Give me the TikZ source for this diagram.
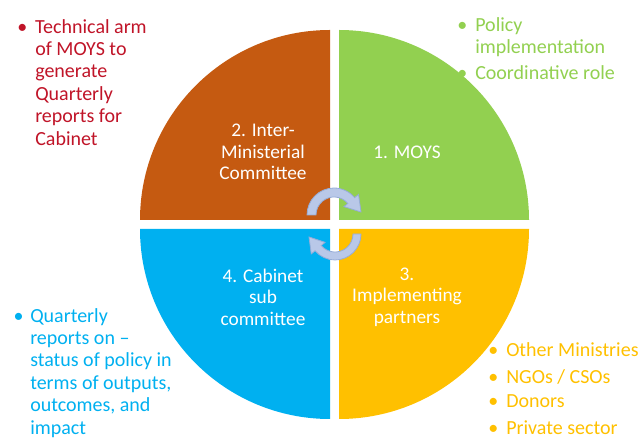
\documentclass[tikz,border=0pt]{standalone}
\usepackage{fontspec}
\setmainfont{Carlito}
\usepackage{tikz}
\usetikzlibrary{calc, positioning}

\definecolor{brownq}{RGB}{197,90,17}
\definecolor{greenq}{RGB}{146,208,80}
\definecolor{blueq}{RGB}{0,176,240}
\definecolor{yellowq}{RGB}{255,192,0}
\definecolor{redtext}{RGB}{192,20,40}
\definecolor{arrowfill}{RGB}{185,200,232}
\definecolor{arrowedge}{RGB}{150,172,215}

\begin{document}
\begin{tikzpicture}[x=0.75pt, y=0.75pt,
        quad/.style={text=white, align=center, inner sep=0pt, font=\fontsize{14.5}{16.2}\selectfont},
        note/.style={anchor=north west, align=left, inner sep=0pt, font=\fontsize{15}{16.8}\selectfont},
        cyc/.style={fill=arrowfill, draw=arrowedge, line width=0.6pt}]
        \useasboundingbox (0,0) rectangle (641,438);
        % four quarters
        \fill[greenq] (339,218) -- ++(190,0) arc[start angle=0, end angle=90, radius=190] -- cycle;
        \fill[brownq] (330,218) -- ++(0,190) arc[start angle=90, end angle=180, radius=190] -- cycle;
        \fill[blueq] (330,209) -- ++(-190,0) arc[start angle=180, end angle=270, radius=190] -- cycle;
        \fill[yellowq] (339,209) -- ++(0,-190) arc[start angle=270, end angle=360, radius=190] -- cycle;
        \node[quad] (moys) at (407,286) {1. MOYS};
        \node[quad] (imc) at (263,286) {2. Inter-\\Ministerial\\Committee};
        \node[quad] (ip) at (407,141) {3.\\Implementing\\partners};
        \node[quad] (csc) at (263,141) {4. Cabinet\\sub\\committee};
        % circular arrows
        \begin{scope}[shift={(334,223)}]
            \filldraw[cyc] (180:27) arc[start angle=180, end angle=40, radius=27] -- (40:32) -- (27,3) -- (40:13) -- (40:18) arc[start angle=40, end angle=180, radius=18] -- cycle;
        \end{scope}
        \begin{scope}[shift={(335,204)}, rotate=180]
            \filldraw[cyc] (180:26) arc[start angle=180, end angle=40, radius=26] -- (40:31) -- (26,3) -- (40:13) -- (40:18) arc[start angle=40, end angle=180, radius=18] -- cycle;
        \end{scope}
        % notes
        \node[note, text=redtext] (tech) at (35,419) {\llap{\textbullet\hspace{6pt}}Technical arm\\of MOYS to\\generate\\Quarterly\\reports for\\Cabinet};
        \node[note, text=greenq] (pol) at (475,421) {\llap{\textbullet\hspace{6pt}}Policy\\implementation};
        \node[note, text=greenq] (coord) at (475,373) {\llap{\textbullet\hspace{6pt}}Coordinative role};
        \node[note, text=blueq] (qrep) at (30,130) {\llap{\textbullet\hspace{5pt}}Quarterly\\reports on --\\status of policy in\\terms of outputs,\\outcomes, and\\impact};
        \node[note, text=yellowq] (omin) at (506,96) {\llap{\textbullet\hspace{6pt}}Other Ministries};
        \node[note, text=yellowq] (ngo) at (506,69) {\llap{\textbullet\hspace{6pt}}NGOs / CSOs};
        \node[note, text=yellowq] (don) at (506,44) {\llap{\textbullet\hspace{6pt}}Donors};
        \node[note, text=yellowq] (priv) at (506,18) {\llap{\textbullet\hspace{6pt}}Private sector};
\end{tikzpicture}
\end{document}
